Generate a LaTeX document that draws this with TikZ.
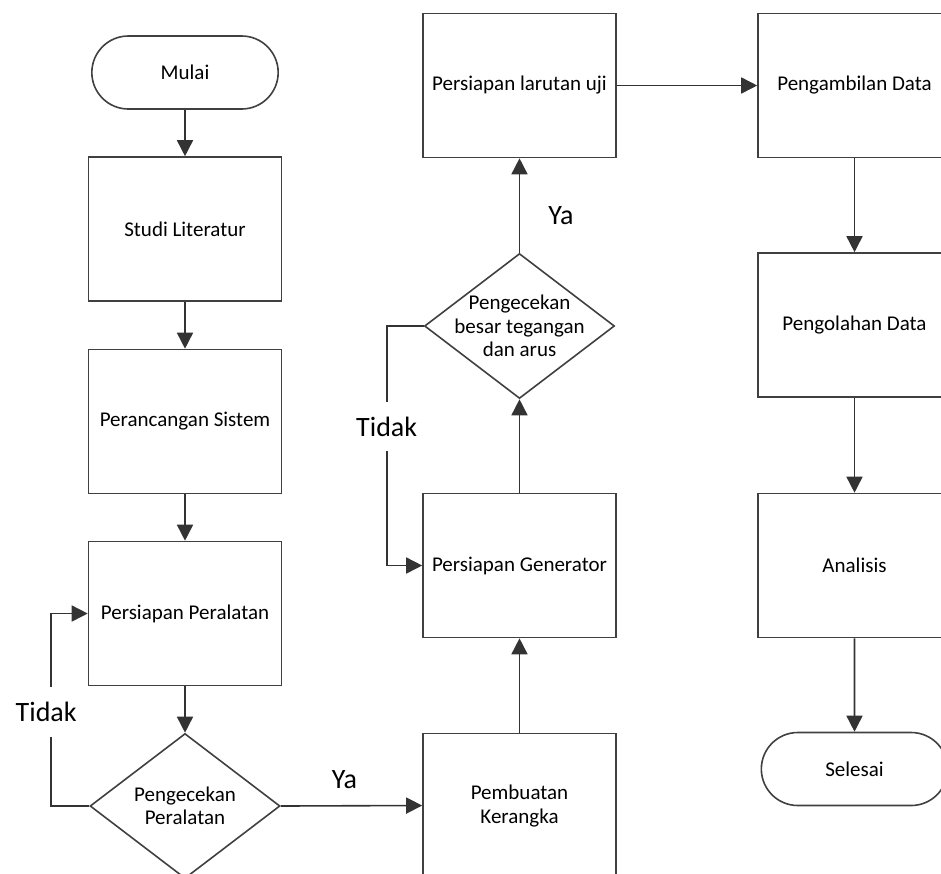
\documentclass[tikz,border=0pt]{standalone}
\usepackage{fontspec}
\setmainfont{Carlito}
\usetikzlibrary{shapes.geometric,shapes.misc,arrows.meta}

\begin{document}
\begin{tikzpicture}[x=1pt, y=-1pt, line width=1.6pt,
  box/.style={draw=black!75, rectangle, minimum width=193pt, minimum height=144pt, align=center, font=\fontsize{21}{24}\selectfont},
  term/.style={draw=black!75, rounded rectangle, minimum width=193pt, minimum height=73pt, font=\fontsize{21}{24}\selectfont},
  decision/.style={draw=black!75, diamond, minimum width=190pt, minimum height=145pt, inner sep=0pt},
  dtext/.style={align=center, font=\fontsize{21}{23.5}\selectfont},
  lbl/.style={font=\fontsize{28}{30}\selectfont, inner sep=2pt},
  arr/.style={draw=black!80, -{Triangle[length=16pt,width=16pt]}}]
\useasboundingbox (0,0) rectangle (941,873);
\clip (0,0) rectangle (941,873);  % gambar asli terpotong di bawah dan kanan

% kolom kiri
\node (mulai) [term] at (185,72.5) {Mulai};
\node (studi) [box] at (185,229) {Studi Literatur};
\node (rancang) [box] at (185,421.5) {Perancangan Sistem};
\node (alat) [box] at (185,613.5) {Persiapan Peralatan};
\node (cekalat) [decision, label={[dtext]center:Pengecekan\\Peralatan}] at (185,806) {};

% kolom tengah
\node (rangka) [box] at (519.5,805.5) {Pembuatan\\Kerangka};
\node (gen) [box] at (519.5,565.5) {Persiapan Generator};
\node (cekgen) [decision, label={[dtext]center:Pengecekan\\besar tegangan\\dan arus}] at (519.5,326) {};
\node (larutan) [box] at (519.5,85.5) {Persiapan larutan uji};

% kolom kanan
\node (ambil) [box] at (854.5,85.5) {Pengambilan Data};
\node (olah) [box] at (854.5,325) {Pengolahan Data};
\node (analisis) [box] at (854.5,565.5) {Analisis};
\node (selesai) [term] at (854.5,769) {Selesai};

\draw[arr] (mulai) -- (studi);
\draw[arr] (studi) -- (rancang);
\draw[arr] (rancang) -- (alat);
\draw[arr] (alat) -- (cekalat);
\draw[arr] (cekalat.west) -- ++(-38,0) coordinate (t1)
  -- node[lbl, fill=white, inner ysep=15pt, pos=0.49, xshift=-5pt] {Tidak} (t1 |- alat.west) -- (alat.west);
\draw[arr] (cekalat.east) -- node[lbl, pos=0.45, above=14pt] {Ya} (rangka.west);
\draw[arr] (rangka) -- (gen);
\draw[arr] (gen) -- (cekgen);
\draw[arr] (cekgen.west) -- ++(-37,0) coordinate (t2)
  -- node[lbl, fill=white, inner ysep=15pt, pos=0.42] {Tidak} (t2 |- gen.west) -- (gen.west);
\draw[arr] (cekgen) -- node[lbl, pos=0.39, right=26pt] {Ya} (larutan);
\draw[arr] (larutan) -- (ambil);
\draw[arr] (ambil) -- (olah);
\draw[arr] (olah) -- (analisis);
\draw[arr] (analisis) -- (selesai);
\end{tikzpicture}
\end{document}
